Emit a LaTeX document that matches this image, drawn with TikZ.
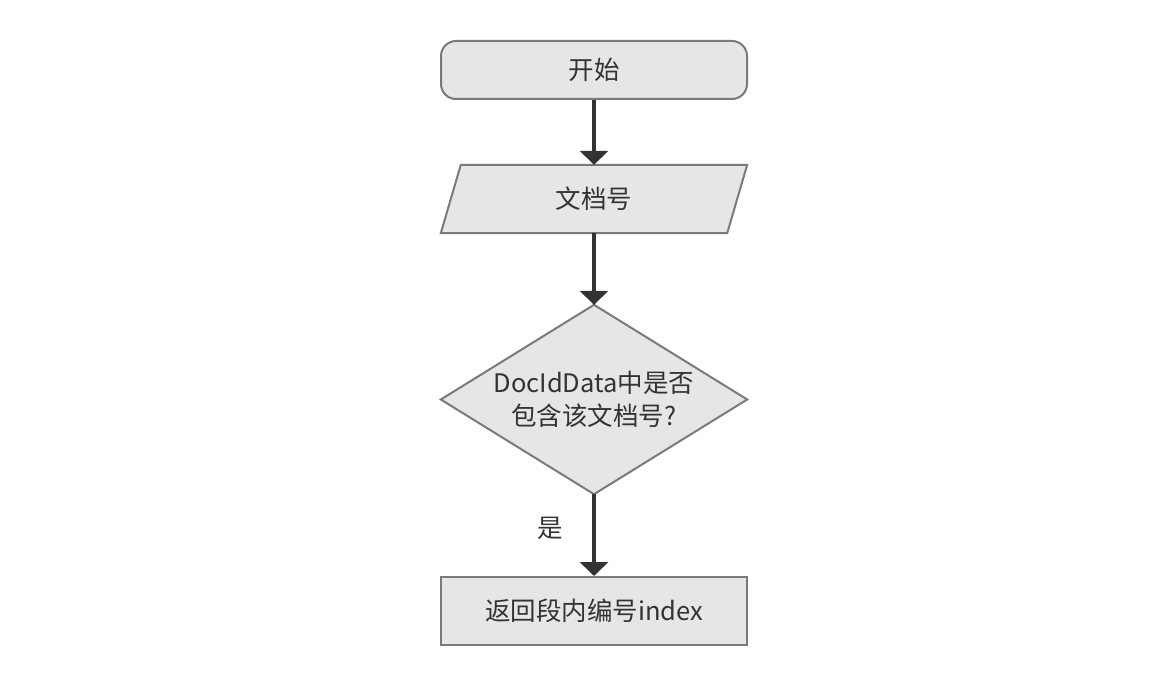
\documentclass[tikz,border=0pt]{standalone}
\usepackage{fontspec}
\setmainfont{Noto Sans CJK SC}
\usetikzlibrary{arrows.meta}
\definecolor{boxfill}{HTML}{E6E6E6}
\definecolor{boxline}{HTML}{7A7A7A}
\definecolor{ink}{HTML}{333333}
\tikzset{
  shapebox/.style={fill=boxfill, draw=boxline, line width=2pt},
  txt/.style={text=ink, font=\fontsize{25.5}{33}\selectfont, align=center},
  flow/.style={draw=ink, line width=4.5pt, -{Triangle[width=28pt,length=14pt]}},
}
\begin{document}
\begin{tikzpicture}[x=1pt,y=-1pt]
\useasboundingbox (0,0) rectangle (1176,684);
% start
\node[shapebox, txt, rounded corners=15pt, minimum width=306pt, minimum height=58pt, inner sep=0pt] (start) at (594,70) {开始};
% parallelogram
\node[minimum width=306pt, minimum height=68pt, inner sep=0pt] (doc) at (594,199) {};
\draw[shapebox] ([xshift=20pt]doc.north west) -- (doc.north east) -- ([xshift=-20pt]doc.south east) -- (doc.south west) -- cycle;
\node[txt] (doctxt) at (doc.center) {文档号};
% diamond
\node[minimum width=306pt, minimum height=189pt, inner sep=0pt] (dec) at (594,399.5) {};
\draw[shapebox] (dec.north) -- (dec.east) -- (dec.south) -- (dec.west) -- cycle;
\node[txt] (dectxt) at (dec.center) {DocIdData中是否\\包含该文档号?};
% result
\node[shapebox, txt, minimum width=306pt, minimum height=68pt, inner sep=0pt] (res) at (594,611) {返回段内编号index};
% arrows
\draw[flow] (start.south) -- (doc.north);
\draw[flow] (doc.south) -- (dec.north);
\draw[flow] (dec.south) -- (res.north);
\node[txt] (yes) at (550,528) {是};
\end{tikzpicture}
\end{document}
